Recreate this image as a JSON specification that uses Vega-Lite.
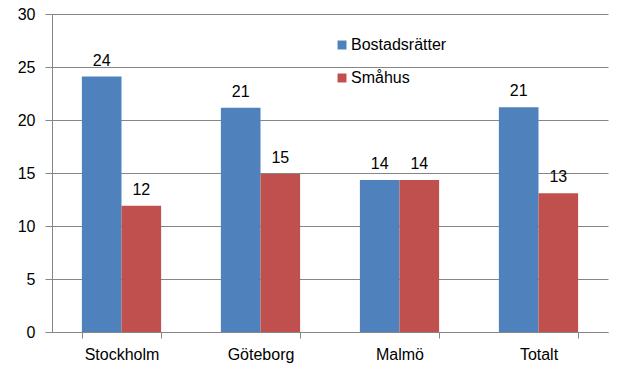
{
  "$schema": "https://vega.github.io/schema/vega-lite/v6.json",
  "width": 556,
  "height": 318,
  "autosize": {"type": "none"},
  "padding": {"left": 52, "top": 14, "right": 11, "bottom": 41},
  "background": "white",
  "config": {
    "view": {"stroke": null},
    "font": "Liberation Sans",
    "axis": {"labelFont": "Liberation Sans", "labelFontSize": 16, "labelColor": "#000000", "domainColor": "#868686", "tickColor": "#868686", "gridColor": "#868686", "title": null}
  },
  "data": {
    "values": [
      {"stad": "Stockholm", "typ": "Bostadsrätter", "v": 24.1},
      {"stad": "Stockholm", "typ": "Småhus", "v": 11.9},
      {"stad": "Göteborg", "typ": "Bostadsrätter", "v": 21.15},
      {"stad": "Göteborg", "typ": "Småhus", "v": 14.9},
      {"stad": "Malmö", "typ": "Bostadsrätter", "v": 14.35},
      {"stad": "Malmö", "typ": "Småhus", "v": 14.35},
      {"stad": "Totalt", "typ": "Bostadsrätter", "v": 21.2},
      {"stad": "Totalt", "typ": "Småhus", "v": 13.1}
    ]
  },
  "encoding": {
    "x": {
      "field": "stad", "type": "nominal", "sort": null,
      "scale": {"paddingInner": 0.43, "paddingOuter": 0.215},
      "axis": {"labelAngle": 0, "tickBand": "extent", "tickSize": 6, "labelPadding": 8, "grid": false}
    },
    "xOffset": {"field": "typ", "type": "nominal", "sort": null, "scale": {"paddingInner": 0, "paddingOuter": 0}},
    "y": {
      "field": "v", "type": "quantitative",
      "scale": {"domain": [0, 30], "nice": false},
      "axis": {"values": [0, 5, 10, 15, 20, 25, 30], "tickSize": 7, "labelPadding": 10, "grid": true, "gridWidth": 1}
    }
  },
  "layer": [
    {
      "mark": {"type": "bar"},
      "encoding": {
        "color": {
          "field": "typ", "type": "nominal", "sort": null,
          "scale": {"domain": ["Bostadsrätter", "Småhus"], "range": ["#4F81BD", "#C0504D"]},
          "legend": {
            "title": null, "orient": "none", "legendX": 282, "legendY": 23,
            "symbolType": "square", "symbolSize": 80, "symbolStrokeWidth": 0,
            "labelFont": "Liberation Sans", "labelFontSize": 16, "labelColor": "#000000",
            "labelOffset": 1, "rowPadding": 17
          }
        }
      }
    },
    {
      "mark": {"type": "text", "baseline": "alphabetic", "dy": -11, "fontSize": 16, "color": "#000000", "font": "Liberation Sans"},
      "encoding": {
        "text": {"field": "v", "type": "quantitative", "format": ".0f"}
      }
    }
  ]
}
